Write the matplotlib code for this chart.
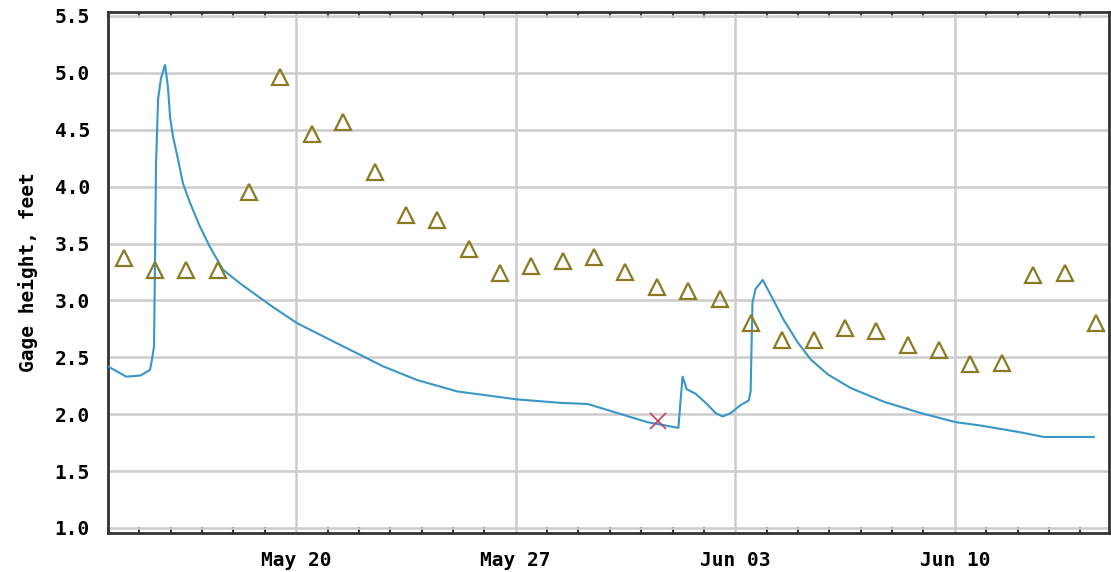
import pandas as pd
import matplotlib
matplotlib.use("Agg")
import matplotlib.pyplot as plt
import matplotlib.dates as mdates

# Gage height (serie continua)
gage_time = ["2012-05-14 00:00", "2012-05-14 14:00", "2012-05-15 01:00", "2012-05-15 08:10",
             "2012-05-15 09:40", "2012-05-15 11:15", "2012-05-15 12:45", "2012-05-15 14:20",
             "2012-05-15 16:30", "2012-05-15 19:40", "2012-05-15 21:50", "2012-05-15 23:30",
             "2012-05-16 01:45", "2012-05-16 05:35", "2012-05-16 09:20", "2012-05-16 14:40",
             "2012-05-16 22:20", "2012-05-17 06:00", "2012-05-17 16:00", "2012-05-18 05:00",
             "2012-05-19 06:25", "2012-05-20 00:45",
             "2012-05-21 04:20", "2012-05-22 18:40", "2012-05-23 20:40", "2012-05-25 03:20",
             "2012-05-27 01:10", "2012-05-28 10:20", "2012-05-29 07:00", "2012-05-31 04:50",
             "2012-06-01 04:30", "2012-06-01 06:00", "2012-06-01 07:40",
             "2012-06-01 10:50", "2012-06-01 17:40", "2012-06-02 01:20", "2012-06-02 09:00",
             "2012-06-02 14:20", "2012-06-02 20:30", "2012-06-03 04:00", "2012-06-03 10:20",
             "2012-06-03 11:45", "2012-06-03 13:10", "2012-06-03 15:30", "2012-06-03 21:00",
             "2012-06-04 05:20", "2012-06-04 13:00", "2012-06-04 23:50", "2012-06-05 09:50",
             "2012-06-05 22:50", "2012-06-06 16:20", "2012-06-07 17:40", "2012-06-08 22:00",
             "2012-06-10 00:45", "2012-06-10 20:00", "2012-06-12 02:40", "2012-06-12 20:10",
             "2012-06-14 10:30"]
gage_value = [2.42, 2.33, 2.34, 2.39,
              2.48, 2.60, 4.20, 4.77,
              4.95, 5.07, 4.88, 4.61,
              4.44, 4.24, 4.03, 3.86,
              3.65, 3.47, 3.27, 3.15,
              2.94, 2.80,
              2.64, 2.42, 2.30, 2.20,
              2.13, 2.10, 2.09, 1.93,
              1.88, 2.10, 2.33,
              2.22, 2.18, 2.10, 2.01,
              1.98, 2.01, 2.08, 2.12,
              2.20, 2.98, 3.10, 3.18,
              3.00, 2.83, 2.63, 2.48,
              2.35, 2.23, 2.11, 2.01,
              1.93, 1.90, 1.84, 1.80,
              1.80]

# Mediana giornaliera (triangoli)
median_day = pd.date_range("2012-05-14 12:00", "2012-06-14 12:00", freq="D")
median_value = [3.37, 3.27, 3.27, 3.27, 3.95, 4.96, 4.46, 4.57,
                4.13, 3.75, 3.71, 3.45, 3.24, 3.30, 3.35, 3.38,
                3.25, 3.12, 3.08, 3.01, 2.80, 2.65, 2.65, 2.76,
                2.73, 2.61, 2.56, 2.44, 2.45, 3.22, 3.24, 2.80]

# Misura puntuale (croce rossa)
meas_time = ["2012-05-31 12:30"]
meas_value = [1.94]

gage_time = pd.to_datetime(gage_time)
meas_time = pd.to_datetime(meas_time)

fig = plt.figure(figsize=(11.11, 5.72), dpi=100)
ax = fig.add_axes([108 / 1111, 39 / 572, 1001 / 1111, 521 / 572])

ax.plot(gage_time, gage_value, color='#3a96c8', linewidth=1.5, zorder=3)
ax.plot(median_day, median_value, linestyle='none', marker='^', markersize=12,
        markerfacecolor='none', markeredgecolor='#8a7a22', markeredgewidth=1.6, zorder=4)
ax.plot(meas_time, meas_value, linestyle='none', marker='x', markersize=11,
        markeredgecolor='#c0405a', markeredgewidth=1.2, zorder=5)

ax.set_xlim(pd.Timestamp("2012-05-14 00:00"), pd.Timestamp("2012-06-14 22:00"))
ax.set_ylim(0.956, 5.535)
ax.set_yticks([1.0, 1.5, 2.0, 2.5, 3.0, 3.5, 4.0, 4.5, 5.0, 5.5])
ax.set_yticklabels(["1.0", "1.5", "2.0", "2.5", "3.0", "3.5", "4.0", "4.5", "5.0", "5.5"])

ax.xaxis.set_major_locator(mdates.DayLocator(bymonthday=[20, 27, 3, 10]))
ax.xaxis.set_major_formatter(mdates.DateFormatter("%b %d"))
ax.xaxis.set_minor_locator(mdates.DayLocator())

ax.grid(True, which='major', color='#cccccc', linewidth=1.8)
ax.set_axisbelow(True)

for s in ax.spines.values():
    s.set_color('#333333')
    s.set_linewidth(2)

ax.tick_params(axis='x', which='major', length=0, pad=13)
ax.tick_params(axis='x', which='minor', direction='in', length=4, width=1.5,
               top=True, bottom=True, color='#333333')
ax.tick_params(axis='y', which='both', length=0, pad=13)

font = {'family': 'DejaVu Sans Mono', 'weight': 'bold', 'size': 14}
for lab in ax.get_xticklabels() + ax.get_yticklabels():
    lab.set_fontfamily('DejaVu Sans Mono')
    lab.set_fontweight('bold')
    lab.set_fontsize(14)
ax.set_ylabel("Gage height, feet", fontdict=font, labelpad=12)

fig.savefig("out.png", dpi=100)
